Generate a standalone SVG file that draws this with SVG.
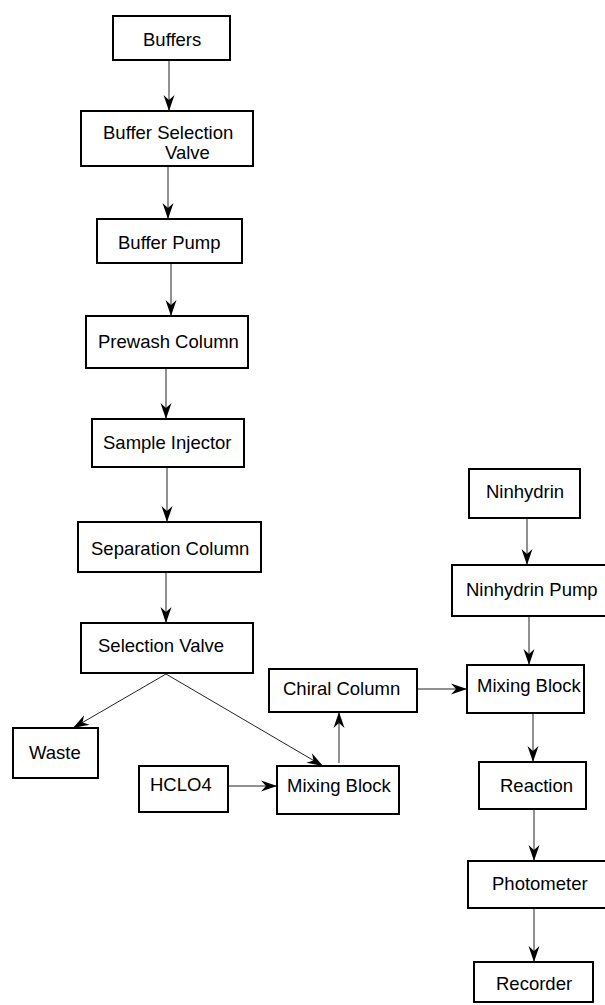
<svg xmlns="http://www.w3.org/2000/svg" width="605" height="1005" viewBox="0 0 605 1005">
<style>
  .box { fill: #fff; stroke: #000; stroke-width: 2; }
  .lbl { font-family: "Liberation Sans", Arial, sans-serif; font-size: 18.5px; fill: #000; }
  .conn { stroke: #222; stroke-width: 1; fill: none; marker-end: url(#ah); }
</style>
<defs>
  <marker id="ah" markerUnits="userSpaceOnUse" markerWidth="18" markerHeight="14" viewBox="-17 -7 18 14" refX="0" refY="0" orient="auto">
    <path d="M0,0 L-16,-5.5 L-11,0 L-16,5.5 Z" fill="#000"/>
  </marker>
</defs>
<rect width="605" height="1005" fill="#fff"/>
<g id="connectors">
  <line class="conn" x1="169" y1="60" x2="169" y2="111"/>
  <line class="conn" x1="168" y1="166" x2="168" y2="219"/>
  <line class="conn" x1="171" y1="263" x2="171" y2="316"/>
  <line class="conn" x1="166" y1="368" x2="166" y2="419"/>
  <line class="conn" x1="167" y1="467" x2="167" y2="522"/>
  <line class="conn" x1="166" y1="572" x2="166" y2="623"/>
  <line class="conn" x1="166" y1="674" x2="73" y2="728"/>
  <line class="conn" x1="166" y1="674" x2="323" y2="766"/>
  <line class="conn" x1="228" y1="786" x2="277" y2="786"/>
  <line class="conn" x1="339" y1="763" x2="339" y2="712"/>
  <line class="conn" x1="417" y1="689" x2="467" y2="689"/>
  <line class="conn" x1="527" y1="518" x2="527" y2="565"/>
  <line class="conn" x1="529" y1="616" x2="529" y2="665"/>
  <line class="conn" x1="533" y1="713" x2="533" y2="762"/>
  <line class="conn" x1="534" y1="809" x2="534" y2="861"/>
  <line class="conn" x1="534" y1="908" x2="534" y2="962"/>
</g>
<g id="buffers"><rect class="box" x="113" y="16" width="117" height="44"/><text class="lbl" x="143" y="46">Buffers</text></g>
<g id="buffer-selection-valve"><rect class="box" x="81" y="111" width="172" height="55"/><text class="lbl" x="103" y="139" font-size="17.5">Buffer Selection</text><text class="lbl" x="165" y="158.5" font-size="17.5">Valve</text></g>
<g id="buffer-pump"><rect class="box" x="97" y="219" width="145" height="44"/><text class="lbl" x="118" y="249">Buffer Pump</text></g>
<g id="prewash-column"><rect class="box" x="86" y="316" width="162" height="52"/><text class="lbl" x="98" y="348">Prewash Column</text></g>
<g id="sample-injector"><rect class="box" x="92" y="419" width="152" height="48"/><text class="lbl" x="103" y="449">Sample Injector</text></g>
<g id="separation-column"><rect class="box" x="78" y="522" width="183" height="50"/><text class="lbl" x="91" y="555">Separation Column</text></g>
<g id="selection-valve"><rect class="box" x="81" y="623" width="172" height="50"/><text class="lbl" x="98" y="652">Selection Valve</text></g>
<g id="waste"><rect class="box" x="13" y="728" width="85" height="50"/><text class="lbl" x="29" y="759">Waste</text></g>
<g id="hclo4"><rect class="box" x="139" y="766" width="89" height="46"/><text class="lbl" x="150" y="791">HCLO4</text></g>
<g id="mixing-block-1"><rect class="box" x="277" y="766" width="122" height="48"/><text class="lbl" x="287" y="792">Mixing Block</text></g>
<g id="chiral-column"><rect class="box" x="269" y="669" width="148" height="43"/><text class="lbl" x="283" y="695">Chiral Column</text></g>
<g id="ninhydrin"><rect class="box" x="469" y="469" width="111" height="49"/><text class="lbl" x="486" y="498">Ninhydrin</text></g>
<g id="ninhydrin-pump"><rect class="box" x="452" y="565" width="160" height="51"/><text class="lbl" x="466" y="596">Ninhydrin Pump</text></g>
<g id="mixing-block-2"><rect class="box" x="467" y="665" width="117" height="48"/><text class="lbl" x="477" y="692">Mixing Block</text></g>
<g id="reaction"><rect class="box" x="479" y="762" width="107" height="47"/><text class="lbl" x="500" y="792">Reaction</text></g>
<g id="photometer"><rect class="box" x="468" y="861" width="140" height="47"/><text class="lbl" x="492" y="890">Photometer</text></g>
<g id="recorder"><rect class="box" x="474" y="962" width="119" height="40"/><text class="lbl" x="496" y="990">Recorder</text></g>
</svg>
